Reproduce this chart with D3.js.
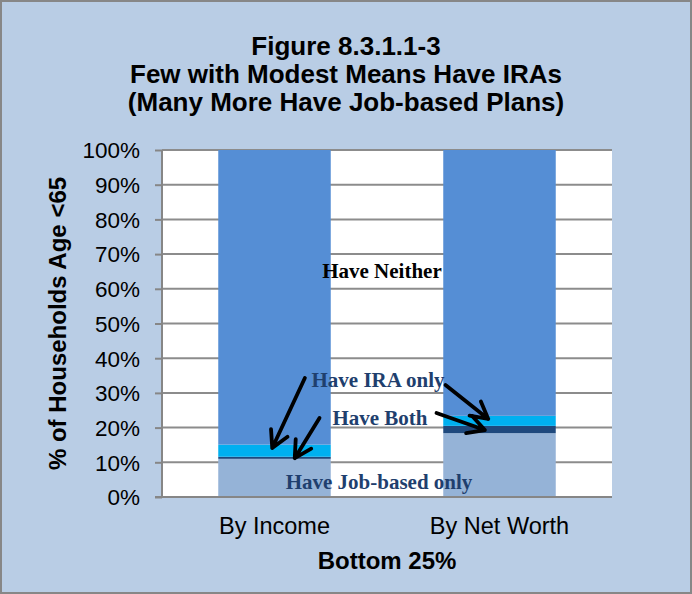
<!DOCTYPE html>
<html>
<head>
<meta charset="utf-8">
<script src="https://d3js.org/d3.v7.min.js"></script>
<style>
html,body{margin:0;padding:0;background:#fff;}
svg{display:block;}
</style>
</head>
<body>
<div id="chart"></div>
<script>
// ---- data ----
const categories = ["By Income", "By Net Worth"];
const seriesNames = ["Have Job-based only", "Have Both", "Have IRA only", "Have Neither"];
const jobBasedOnly = [11.0, 18.4];
const haveBoth = [0.6, 2.1];
const iraOnly = [3.5, 2.9];
const haveNeither = [84.9, 76.6];
const yTicks = [0, 10, 20, 30, 40, 50, 60, 70, 80, 90, 100];
const titleLines = ["Figure 8.3.1.1-3", "Few with Modest Means Have IRAs", "(Many More Have Job-based Plans)"];
const yTitle = "% of Households Age <65";
const xTitle = "Bottom 25%";

const colors = ["#95B3D7", "#1F497D", "#00B0F0", "#558ED5"];

const W = 692, H = 594;
const m = {left: 162, right: 80, top: 150, bottom: 97};

const svg = d3.select("#chart").append("svg").attr("width", W).attr("height", H);
svg.append("rect").attr("x", 1).attr("y", 1).attr("width", W - 2).attr("height", H - 2)
  .attr("fill", "#B9CDE5").attr("stroke", "#878787").attr("stroke-width", 2);

const x = d3.scaleBand().domain(categories).range([m.left, W - m.right]).paddingInner(0.5).paddingOuter(0.25);
const y = d3.scaleLinear().domain([0, 100]).range([H - m.bottom, m.top]);

// plot background
svg.append("rect").attr("x", m.left).attr("y", m.top)
  .attr("width", W - m.right - m.left).attr("height", H - m.bottom - m.top).attr("fill", "#fff");

// gridlines
svg.append("g").selectAll("line").data(yTicks.filter(d => d > 0)).join("line")
  .attr("x1", m.left).attr("x2", W - m.right)
  .attr("y1", d => y(d)).attr("y2", d => y(d))
  .attr("stroke", "#8C8C8C").attr("stroke-width", 2);

// stacked bars
const table = categories.map((c, i) => ({
  cat: c,
  "Have Job-based only": jobBasedOnly[i],
  "Have Both": haveBoth[i],
  "Have IRA only": iraOnly[i],
  "Have Neither": haveNeither[i]
}));
const stack = d3.stack().keys(seriesNames)(table);
svg.append("g").selectAll("g").data(stack).join("g")
  .attr("fill", (d, i) => colors[i])
  .selectAll("rect").data(d => d).join("rect")
  .attr("x", d => x(d.data.cat))
  .attr("width", x.bandwidth())
  .attr("y", d => y(d[1]))
  .attr("height", d => y(d[0]) - y(d[1]));

// y axis
const yAxis = d3.axisLeft(y).tickValues(yTicks).tickFormat(d => d + "%").tickSize(7).tickPadding(15);
const ya = svg.append("g").attr("transform", `translate(${m.left},0)`).call(yAxis);
ya.select(".domain").attr("stroke", "#868686").attr("stroke-width", 2).attr("d", `M0,${y(0)}V${y(100)}`);
ya.selectAll(".tick line").attr("stroke", "#868686").attr("stroke-width", 2);
ya.selectAll(".tick text").attr("font-family", "Liberation Sans, Arial, sans-serif")
  .attr("font-size", 22.5).attr("fill", "#000").attr("dy", "0.35em");

// x axis
const xa = svg.append("g").attr("transform", `translate(0,${y(0)})`)
  .call(d3.axisBottom(x).tickSize(0).tickPadding(20));
xa.select(".domain").attr("stroke", "#868686").attr("stroke-width", 2).attr("d", `M${m.left - 7},0H${W - m.right}`);
xa.selectAll(".tick text").attr("font-family", "Liberation Sans, Arial, sans-serif")
  .attr("font-size", 23.5).attr("fill", "#000");

// titles
const title = svg.append("g").attr("font-family", "Liberation Sans, Arial, sans-serif")
  .attr("font-weight", "bold").attr("font-size", 26).attr("text-anchor", "middle");
titleLines.forEach((t, i) => {
  title.append("text").attr("x", 346).attr("y", 55 + i * 28).text(t);
});
svg.append("text").attr("transform", `translate(66,${(y(0) + y(100)) / 2}) rotate(-90)`)
  .attr("text-anchor", "middle").attr("font-family", "Liberation Sans, Arial, sans-serif")
  .attr("font-weight", "bold").attr("font-size", 24).text(yTitle);
svg.append("text").attr("x", 387).attr("y", 569)
  .attr("text-anchor", "middle").attr("font-family", "Liberation Sans, Arial, sans-serif")
  .attr("font-weight", "bold").attr("font-size", 24).text(xTitle);

// annotations (positioned in data space)
const mid = x(categories[0]) + x.bandwidth() + (x(categories[1]) - x(categories[0]) - x.bandwidth()) / 2;
const labels = [
  {t: "Have Neither", v: 63.0, dx: -5, c: "#000"},
  {t: "Have IRA only", v: 31.6, dx: -9, c: "#1F3F6E"},
  {t: "Have Both", v: 20.7, dx: -7, c: "#1F3F6E"},
  {t: "Have Job-based only", v: 2.2, dx: -8, c: "#1F3F6E"}
];
svg.append("g").selectAll("text").data(labels).join("text")
  .attr("x", d => mid + d.dx).attr("y", d => y(d.v))
  .attr("text-anchor", "middle")
  .attr("font-family", "Liberation Serif, Times New Roman, serif")
  .attr("font-weight", "bold").attr("font-size", 21)
  .attr("fill", d => d.c).text(d => d.t);

// arrows: [category, frac start, value start, frac tip, value tip]
const arrows = [
  [0, 0.77, 34.3, 0.48, 14.1],
  [0, 0.90, 22.8, 0.68, 11.2],
  [1, 0.02, 32.3, 0.40, 22.5],
  [1, -0.06, 24.2, 0.37, 19.3]
];
const ag = svg.append("g").attr("stroke", "#000").attr("stroke-width", 3.8)
  .attr("fill", "none").attr("stroke-linecap", "round").attr("stroke-linejoin", "round");
arrows.forEach(a => {
  const x0 = x(categories[a[0]]) + a[1] * x.bandwidth(), y0 = y(a[2]);
  const x1 = x(categories[a[0]]) + a[3] * x.bandwidth(), y1 = y(a[4]);
  const ang = Math.atan2(y1 - y0, x1 - x0);
  const L = 19, sp = 0.5;
  const h1 = [x1 - L * Math.cos(ang - sp), y1 - L * Math.sin(ang - sp)];
  const h2 = [x1 - L * Math.cos(ang + sp), y1 - L * Math.sin(ang + sp)];
  ag.append("path").attr("d", `M${x0},${y0}L${x1},${y1}M${h1[0]},${h1[1]}L${x1},${y1}L${h2[0]},${h2[1]}`);
});
</script>
</body>
</html>
